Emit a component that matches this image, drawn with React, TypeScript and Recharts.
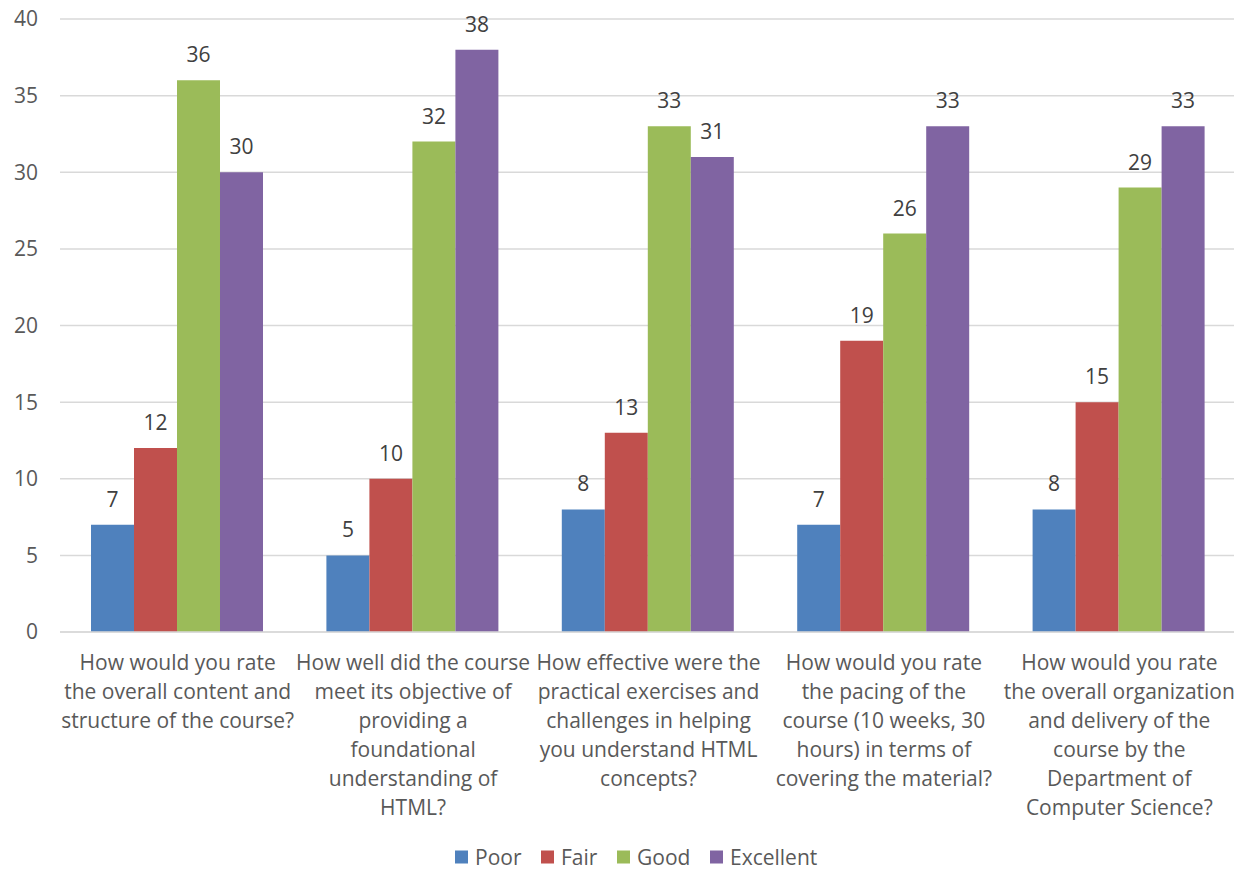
import React from "react";
import { BarChart, Bar, XAxis, YAxis, CartesianGrid, LabelList, Customized } from "recharts";

const categories = ["Q1", "Q2", "Q3", "Q4", "Q5"];
const categoryLines: string[][] = [
  ["How would you rate", "the overall content and", "structure of the course?"],
  ["How well did the course", "meet its objective of", "providing a", "foundational", "understanding of", "HTML?"],
  ["How effective were the", "practical exercises and", "challenges in helping", "you understand HTML", "concepts?"],
  ["How would you rate", "the pacing of the", "course (10 weeks, 30", "hours) in terms of", "covering the material?"],
  ["How would you rate", "the overall organization", "and delivery of the", "course by the", "Department of", "Computer Science?"],
];
const poor = [7, 5, 8, 7, 8];
const fair = [12, 10, 13, 19, 15];
const good = [36, 32, 33, 26, 29];
const excellent = [30, 38, 31, 33, 33];
const yTicks = [0, 5, 10, 15, 20, 25, 30, 35, 40];

const seriesNames = ["Poor", "Fair", "Good", "Excellent"];
const seriesKeys = ["poor", "fair", "good", "excellent"];
const colors = ["#4F81BD", "#C0504D", "#9BBB59", "#8064A2"];

const data = categories.map((c, i) => ({
  name: c,
  idx: i,
  poor: poor[i],
  fair: fair[i],
  good: good[i],
  excellent: excellent[i],
}));

const FONT = "'Open Sans', sans-serif";
const TEXT = "#595959";
const FS = 21;

const XTick = (props: any) => {
  const { x, y, payload } = props;
  const i = categories.indexOf(payload.value);
  const lines = categoryLines[i] || [];
  return (
    <g>
      {lines.map((l, k) => (
        <text
          key={k}
          x={x}
          y={y + 22 + k * 29}
          textAnchor="middle"
          dominantBaseline="central"
          fill={TEXT}
          fontSize={FS}
          fontFamily={FONT}
        >
          {l}
        </text>
      ))}
    </g>
  );
};

// legend layout (item start positions along the bottom row)
const legendItemX = [455, 541, 617, 710];
const legendY = 857;

const LegendSvg = () => (
  <g>
    {seriesNames.map((n, i) => (
      <g key={n}>
        <rect x={legendItemX[i]} y={legendY - 6.5} width={13} height={13} fill={colors[i]} />
        <text
          x={legendItemX[i] + 20}
          y={legendY}
          dominantBaseline="central"
          fill={TEXT}
          fontSize={FS}
          fontFamily={FONT}
        >
          {n}
        </text>
      </g>
    ))}
  </g>
);

export default function App() {
  return (
    <div style={{ marginLeft: -8, marginTop: -8, background: "#fff", width: 1242, height: 873 }}>
      <BarChart
        width={1242}
        height={873}
        data={data}
        margin={{ top: 19, right: 5, bottom: 0, left: 0 }}
        barCategoryGap={31}
        barGap={0}
      >
        <CartesianGrid vertical={false} stroke="#d9d9d9" strokeWidth={1.5} />
        <XAxis
          dataKey="name"
          tick={<XTick />}
          tickLine={false}
          axisLine={{ stroke: "#d9d9d9", strokeWidth: 1.5 }}
          interval={0}
          height={241}
        />
        <YAxis
          width={60}
          domain={[0, 40]}
          ticks={yTicks}
          tickLine={false}
          axisLine={false}
          tickSize={0}
          tickMargin={22}
          tick={{ fill: TEXT, fontSize: FS, fontFamily: FONT }}
        />
        {seriesKeys.map((k, i) => (
          <Bar key={k} dataKey={k} name={seriesNames[i]} fill={colors[i]} isAnimationActive={false}>
            <LabelList
              dataKey={k}
              position="top"
              offset={18}
              fill="#404040"
              fontSize={FS}
              fontFamily={FONT}
            />
          </Bar>
        ))}
        <Customized component={LegendSvg} />
      </BarChart>
    </div>
  );
}
